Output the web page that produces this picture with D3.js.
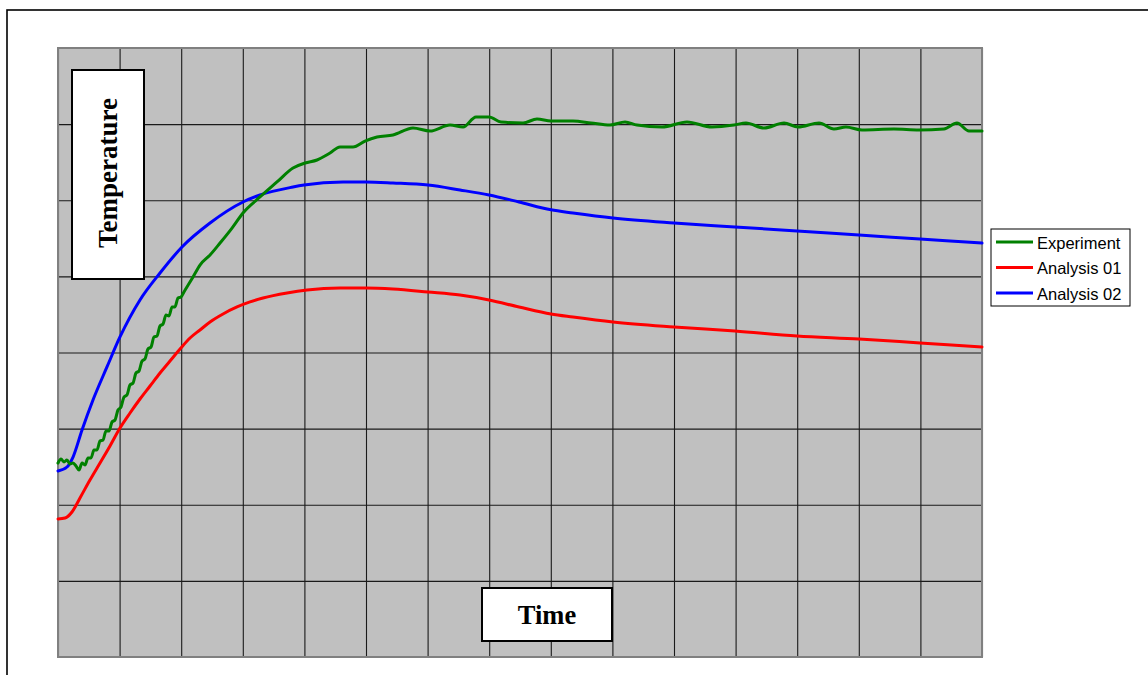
<!DOCTYPE html>
<html><head><meta charset="utf-8">
<script src="https://cdn.jsdelivr.net/npm/d3@7"></script>
<style>html,body{margin:0;padding:0;background:#fff;overflow:hidden}</style>
</head><body>
<svg id="chart" width="1148" height="675"></svg>
<script>
// ---- data (time in grid units 0..15, temperature in grid units 0..8) ----
const seriesNames = ["Experiment", "Analysis 01", "Analysis 02"];
const seriesColors = ["#008000", "#ff0000", "#0000ff"];

const expTime = [0,0.049,0.097,0.146,0.195,0.244,0.292,0.341,0.390,0.438,
  0.487,0.536,0.584,0.633,0.682,0.731,0.779,0.828,0.877,0.925,
  0.974,1.023,1.071,1.120,1.169,1.218,1.266,1.315,1.364,1.412,
  1.461,1.510,1.558,1.607,1.656,1.705,1.753,1.802,1.851,1.899,
  1.948,1.997,2.045,
  2.192,2.305,2.468,2.630,
  2.825,3.003,3.279,3.555,3.815,4.010,4.205,4.416,4.578,4.789,
  4.984,5.179,5.438,5.763,6.039,6.364,6.575,6.786,6.997,7.192,
  7.549,7.776,8.003,8.360,8.653,8.961,9.205,9.399,9.805,10.211,
  10.617,10.974,11.169,11.461,11.786,12.013,12.354,12.597,12.792,13.052,
  13.571,13.977,14.383,14.594,14.789,15.000];
const expTemp = [2.548,2.601,2.562,2.588,2.535,2.548,2.509,2.456,2.548,2.522,
  2.614,2.614,2.719,2.719,2.837,2.851,2.969,2.969,3.087,3.113,
  3.245,3.284,3.415,3.442,3.573,3.599,3.731,3.757,3.888,3.915,
  4.046,4.072,4.204,4.217,4.348,4.374,4.493,4.479,4.598,4.598,
  4.716,4.729,4.795,
  4.992,5.149,5.281,5.438,
  5.635,5.833,6.043,6.240,6.424,6.489,6.529,6.621,6.700,6.700,
  6.778,6.831,6.857,6.949,6.910,6.988,6.962,7.094,7.094,7.028,
  7.015,7.067,7.041,7.041,7.015,6.988,7.028,6.988,6.962,7.028,
  6.962,6.988,7.015,6.949,7.015,6.962,7.015,6.936,6.962,6.923,
  6.936,6.923,6.936,7.015,6.910,6.910];

const a1Time = [0,0.114,0.227,0.357,0.519,0.682,0.844,1.006,1.169,1.331,
  1.494,1.656,1.818,1.981,2.143,2.305,2.468,2.679,2.906,3.117,
  3.328,3.718,4.042,4.578,5.000,5.438,6.006,6.526,6.997,7.484,
  8.003,8.360,9.010,10.000,10.990,11.997,13.003,13.994,15.000];
const a1Temp = [1.813,1.826,1.905,2.089,2.325,2.548,2.772,3.008,3.205,3.389,
  3.560,3.731,3.888,4.046,4.190,4.296,4.401,4.506,4.598,4.664,
  4.716,4.782,4.821,4.847,4.847,4.834,4.795,4.755,4.690,4.598,
  4.506,4.466,4.401,4.335,4.282,4.217,4.177,4.125,4.072];

const a2Time = [0,0.146,0.244,0.390,0.568,0.795,1.006,1.331,1.656,2.013,
  2.468,3.003,3.279,3.815,3.994,4.627,5.000,5.438,6.006,6.526,
  6.997,7.484,8.003,8.360,9.010,10.000,10.990,11.997,13.003,13.994,15.000];
const a2Temp = [2.443,2.496,2.627,2.982,3.376,3.810,4.204,4.690,5.044,5.386,
  5.701,5.977,6.069,6.174,6.200,6.240,6.240,6.227,6.200,6.135,
  6.069,5.977,5.874,5.833,5.767,5.701,5.649,5.596,5.543,5.491,5.438];

const xGridValues = d3.range(0, 16, 1);
const yGridValues = d3.range(0, 9, 1);
const xLabel = "Time";
const yLabel = "Temperature";

// ---- layout ----
const svg = d3.select("#chart");
const plot = {left: 58, top: 48, right: 982, bottom: 657};
const x = d3.scaleLinear().domain([0, 15]).range([plot.left, plot.right]);
const y = d3.scaleLinear().domain([0, 8]).range([plot.bottom, plot.top]);

// outer frame (extends past the window)
svg.append("rect").attr("x", 7).attr("y", 10).attr("width", 1160).attr("height", 700)
  .attr("fill", "#fff").attr("stroke", "#000").attr("stroke-width", 1.6);

// plot background
svg.append("rect").attr("x", plot.left).attr("y", plot.top)
  .attr("width", plot.right - plot.left).attr("height", plot.bottom - plot.top)
  .attr("fill", "#c0c0c0");

// gridlines via axes
const gx = svg.append("g").attr("transform", `translate(0,${plot.bottom})`)
  .call(d3.axisBottom(x).tickValues(xGridValues).tickSize(-(plot.bottom - plot.top)).tickFormat(""));
const gy = svg.append("g").attr("transform", `translate(${plot.left},0)`)
  .call(d3.axisLeft(y).tickValues(yGridValues).tickSize(-(plot.right - plot.left)).tickFormat(""));
[gx, gy].forEach(g => {
  g.select(".domain").remove();
  g.selectAll(".tick line").attr("stroke", "#1a1a1a").attr("stroke-width", 1.1);
});

// plot border
svg.append("rect").attr("x", plot.left).attr("y", plot.top)
  .attr("width", plot.right - plot.left).attr("height", plot.bottom - plot.top)
  .attr("fill", "none").attr("stroke", "#808080").attr("stroke-width", 2);

// lines
const line = d3.line().x(d => x(d[0])).y(d => y(d[1])).curve(d3.curveMonotoneX);
const series = [
  d3.zip(expTime, expTemp),
  d3.zip(a1Time, a1Temp),
  d3.zip(a2Time, a2Temp)
];
// draw order: Analysis 01, Analysis 02, Experiment on top
[1, 2, 0].forEach(i => {
  svg.append("path").datum(series[i])
    .attr("d", line)
    .attr("fill", "none").attr("stroke", seriesColors[i])
    .attr("stroke-width", 3).attr("stroke-linejoin", "round").attr("stroke-linecap", "round");
});

// y label box
svg.append("rect").attr("x", 72).attr("y", 70).attr("width", 72).attr("height", 209)
  .attr("fill", "#fff").attr("stroke", "#000").attr("stroke-width", 2);
svg.append("text").attr("transform", "translate(108,173) rotate(-90)")
  .attr("text-anchor", "middle").attr("dominant-baseline", "central")
  .attr("font-family", "'Liberation Serif','Times New Roman',serif")
  .attr("font-weight", "bold").attr("font-size", 27).text(yLabel);

// x label box
svg.append("rect").attr("x", 482).attr("y", 588).attr("width", 130).attr("height", 53)
  .attr("fill", "#fff").attr("stroke", "#000").attr("stroke-width", 2);
svg.append("text").attr("x", 547).attr("y", 615)
  .attr("text-anchor", "middle").attr("dominant-baseline", "central")
  .attr("font-family", "'Liberation Serif','Times New Roman',serif")
  .attr("font-weight", "bold").attr("font-size", 26.5).text(xLabel);

// legend
const lg = svg.append("g");
lg.append("rect").attr("x", 991).attr("y", 229).attr("width", 139).attr("height", 77)
  .attr("fill", "#fff").attr("stroke", "#000").attr("stroke-width", 1);
seriesNames.forEach((name, i) => {
  const yy = 242 + i * 25.5;
  lg.append("line").attr("x1", 996).attr("x2", 1033).attr("y1", yy).attr("y2", yy)
    .attr("stroke", seriesColors[i]).attr("stroke-width", 3);
  lg.append("text").attr("x", 1037).attr("y", yy + 0.5).attr("dominant-baseline", "central")
    .attr("font-family", "'Liberation Sans',Arial,sans-serif").attr("font-size", 16.5)
    .attr("fill", "#000").text(name);
});
</script>
</body></html>
